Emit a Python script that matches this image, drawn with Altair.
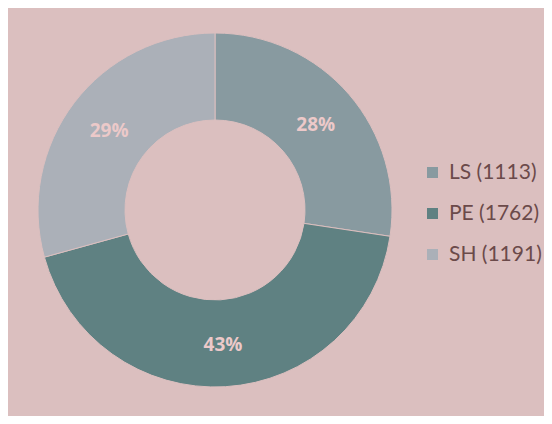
import altair as alt
import pandas as pd

categories = ["LS", "PE", "SH"]
counts = [1113, 1762, 1191]
pct_labels = ["28%", "43%", "29%"]
colors = ["#889aa0", "#5f8182", "#abb0b8"]

labels = [f"{c} ({n})" for c, n in zip(categories, counts)]
df = pd.DataFrame({"cat": labels, "count": counts, "pct": pct_labels, "idx": list(range(len(counts)))})

cx, cy = 207, 202

base = alt.Chart(df).encode(
    theta=alt.Theta("count:Q", stack=True),
    order=alt.Order("idx:Q"),
    x=alt.value(cx),
    y=alt.value(cy),
)

arcs = base.mark_arc(innerRadius=90, outerRadius=177, stroke="#dbbfbf", strokeWidth=1).encode(
    color=alt.Color(
        "cat:N",
        scale=alt.Scale(domain=labels, range=colors),
        sort=labels,
        legend=alt.Legend(
            title=None,
            orient="none",
            legendX=414,
            legendY=154,
            symbolType="square",
            symbolSize=121,
            symbolStrokeWidth=0,
            labelFont="Lato",
            labelFontSize=21,
            labelColor="#6b4a4a",
            rowPadding=19,
            labelOffset=6,
        ),
    )
)

text = base.mark_text(
    radius=133, font="Open Sans", fontSize=19, fontWeight="bold", fill="#ecc9c9", dy=2
).encode(text="pct:N")

chart = (
    alt.layer(arcs, text)
    .properties(width=536, height=408, autosize=alt.AutoSizeParams(type="none"), padding=0)
    .configure(background="#dbbfbf")
    .configure_view(stroke=None)
)

chart.save("out.html", embed_options={"renderer": "svg", "actions": False})
